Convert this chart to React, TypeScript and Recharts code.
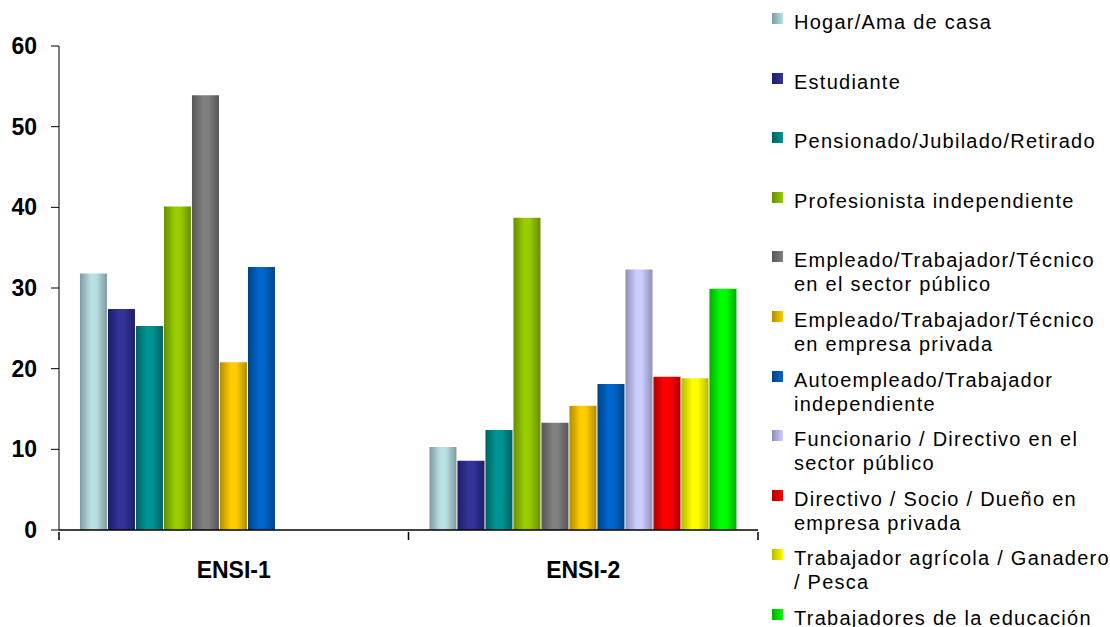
import { BarChart, Bar, XAxis, YAxis, Legend } from "recharts";

const CATEGORIES = ["ENSI-1", "ENSI-2"];

const SERIES_NAMES = [
  "Hogar/Ama de casa",
  "Estudiante",
  "Pensionado/Jubilado/Retirado",
  "Profesionista independiente",
  "Empleado/Trabajador/Técnico en el sector público",
  "Empleado/Trabajador/Técnico en empresa privada",
  "Autoempleado/Trabajador independiente",
  "Funcionario / Directivo en el sector público",
  "Directivo / Socio / Dueño en empresa privada",
  "Trabajador agrícola / Ganadero / Pesca",
  "Trabajadores de la educación",
];

// legend text is wrapped like the original
const LEGEND_LINES = [
  ["Hogar/Ama de casa"],
  ["Estudiante"],
  ["Pensionado/Jubilado/Retirado"],
  ["Profesionista independiente"],
  ["Empleado/Trabajador/Técnico", "en el sector público"],
  ["Empleado/Trabajador/Técnico", "en empresa privada"],
  ["Autoempleado/Trabajador", "independiente"],
  ["Funcionario / Directivo en el", "sector público"],
  ["Directivo / Socio / Dueño en", "empresa privada"],
  ["Trabajador agrícola / Ganadero", "/ Pesca"],
  ["Trabajadores de la educación"],
];

const ENSI1 = [31.8, 27.4, 25.3, 40.1, 53.9, 20.8, 32.6, null, null, null, null];
const ENSI2 = [10.3, 8.6, 12.4, 38.7, 13.3, 15.4, 18.1, 32.3, 19.0, 18.8, 29.9];

const Y_TICKS = [0, 10, 20, 30, 40, 50, 60];

// [center, edge]
const COLORS = [
  ["#B9DFE3", "#7E9CA0"],
  ["#333399", "#1E1E66"],
  ["#009494", "#006262"],
  ["#99CC00", "#658E00"],
  ["#808080", "#565656"],
  ["#FFCC00", "#B28C00"],
  ["#0066CC", "#004389"],
  ["#CCCCFF", "#8E8EB6"],
  ["#FF0000", "#B00000"],
  ["#FFFF00", "#B8B800"],
  ["#00FF00", "#00AE00"],
];

const data = CATEGORIES.map((name, ci) => {
  const vals = ci === 0 ? ENSI1 : ENSI2;
  const row: Record<string, string | number | null> = { name };
  vals.forEach((v, i) => {
    row["s" + i] = v;
  });
  return row;
});

const FONT = "Arial, 'Liberation Sans', sans-serif";

// category label plus tick marks on the category boundaries
function CategoryTick(props: any) {
  const { x, y, payload, index, visibleTicksCount } = props;
  const half = payload && payload.offset ? payload.offset : 174.75;
  const last = index === (visibleTicksCount ?? CATEGORIES.length) - 1;
  return (
    <g>
      <line x1={x - half} x2={x - half} y1={y} y2={y + 8} stroke="#000" strokeWidth={1.5} />
      {last && <line x1={x + half} x2={x + half} y1={y} y2={y + 8} stroke="#000" strokeWidth={1.5} />}
      <text
        x={x}
        y={y + 46}
        textAnchor="middle"
        fill="#000"
        fontFamily={FONT}
        fontSize={23}
        fontWeight="bold"
      >
        {payload.value}
      </text>
    </g>
  );
}

function LegendBox() {
  return (
    <div style={{ fontFamily: FONT, fontSize: 20, letterSpacing: 1.25, color: "#000" }}>
      {LEGEND_LINES.map((lines, i) => (
        <div key={i} style={{ position: "relative", height: 59.6, lineHeight: "24px" }}>
          <div
            style={{
              position: "absolute",
              left: 6,
              top: 3,
              width: 11,
              height: 11,
              background: `linear-gradient(to right, ${COLORS[i][1]}, ${COLORS[i][0]})`,
            }}
          />
          <div style={{ position: "absolute", left: 28, top: 0, whiteSpace: "nowrap" }}>
            {lines.map((l, j) => (
              <div key={j}>{l}</div>
            ))}
          </div>
        </div>
      ))}
    </div>
  );
}

export default function App() {
  return (
    <div style={{ position: "absolute", left: 0, top: 0, background: "#fff" }}>
      <BarChart
        width={1110}
        height={627}
        data={data}
        margin={{ top: 46, right: 8, bottom: 52, left: 0 }}
        barCategoryGap="6%"
        barGap={1}
      >
        <defs>
          {COLORS.map(([c, e], i) => (
            <linearGradient key={i} id={"g" + i} x1="0" y1="0" x2="1" y2="0">
              <stop offset="0%" stopColor={e} />
              <stop offset="40%" stopColor={c} />
              <stop offset="60%" stopColor={c} />
              <stop offset="100%" stopColor={e} />
            </linearGradient>
          ))}
        </defs>
        <XAxis
          dataKey="name"
          stroke="#000"
          strokeWidth={1.5}
          tickLine={false}
          tickSize={0}
          height={45}
          tick={<CategoryTick />}
        />
        <YAxis
          width={59}
          domain={[0, 60]}
          ticks={Y_TICKS}
          tickSize={8}
          tickMargin={14}
          stroke="#000"
          tick={{ fill: "#000", fontFamily: FONT, fontSize: 23, fontWeight: "bold" }}
        />
        <Legend
          layout="vertical"
          verticalAlign="top"
          align="right"
          wrapperStyle={{ left: 766, top: 10, width: 344 }}
          content={() => <LegendBox />}
        />
        {SERIES_NAMES.map((n, i) => (
          <Bar key={i} dataKey={"s" + i} name={n} fill={`url(#g${i})`} isAnimationActive={false} />
        ))}
      </BarChart>
    </div>
  );
}
